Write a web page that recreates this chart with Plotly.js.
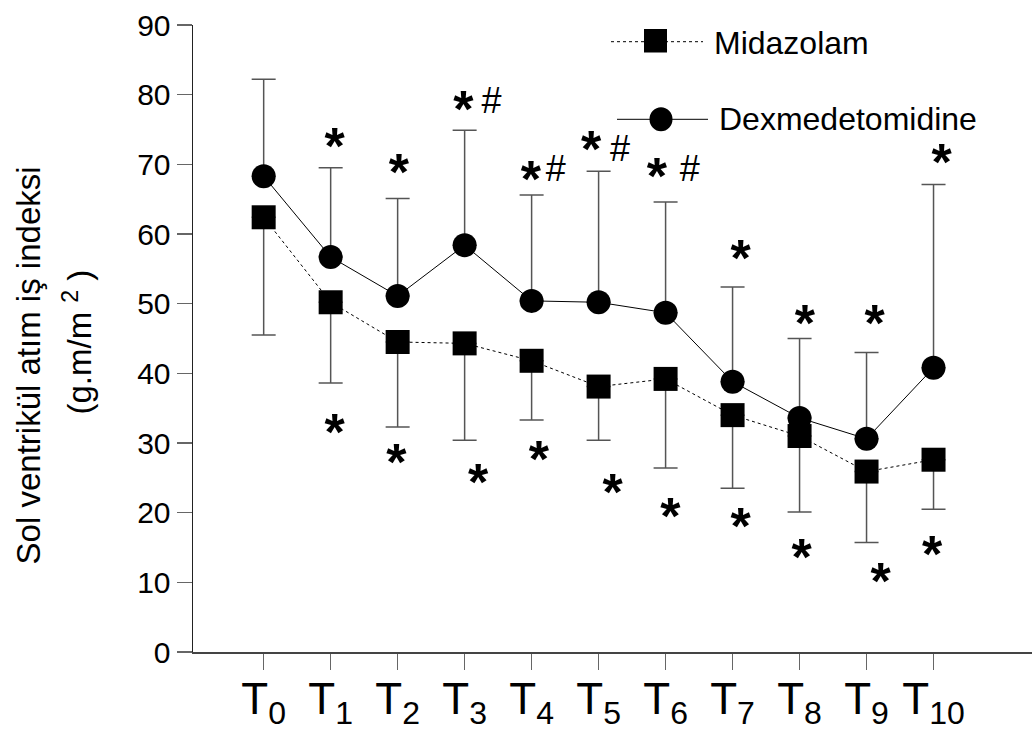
<!DOCTYPE html>
<html>
<head>
<meta charset="utf-8">
<script src="https://cdn.plot.ly/plotly-3.0.1.min.js"></script>
<style>html,body{margin:0;padding:0;background:#fff;}#chart{width:1033px;height:738px;}</style>
</head>
<body>
<div id="chart"></div>
<script>
// ---- data ----
const timePoints = [0,1,2,3,4,5,6,7,8,9,10];
const tickLabels = ['0','1','2','3','4','5','6','7','8','9','10'];
const midazolam = [62.4, 50.2, 44.5, 44.3, 41.8, 38.1, 39.2, 34.0, 31.0, 25.9, 27.6];
const midazolamSDminus = [16.9, 11.6, 12.2, 13.9, 8.5, 7.7, 12.8, 10.5, 10.9, 10.2, 7.1];
const dexmedetomidine = [68.3, 56.7, 51.1, 58.4, 50.4, 50.2, 48.7, 38.8, 33.6, 30.6, 40.8];
const dexSDplus = [13.9, 12.8, 14.0, 16.5, 15.2, 18.8, 15.9, 13.6, 11.4, 12.4, 26.3];
// significance marks ('*' = vs T0, '#' = between groups): x (time index), y value
const starX = [1.06, 2.02, 2.98, 3.99, 4.89, 5.87, 7.12, 8.08, 9.12, 10.12,
               1.06, 1.98, 3.20, 4.11, 5.21, 6.07, 7.12, 8.03, 9.21, 9.98];
const starY = [73.5, 69.8, 78.8, 68.7, 73.1, 69.2, 57.4, 48.1, 48.1, 71.2,
               32.4, 28.2, 25.2, 28.6, 23.8, 20.4, 18.9, 14.5, 11.0, 14.9];
const hashX = [3.40, 4.36, 5.32, 6.36];
const hashY = [78.7, 68.9, 71.8, 68.9];
const seriesNames = ['Midazolam','Dexmedetomidine'];
const yTitleLines = ['Sol ventrikül atım iş indeksi', '(g.m/m <sup>2</sup> )'];

// ---- style ----
const SANS = "'Liberation Sans',Arial,sans-serif";
const L = 193, R = 1032, T = 25, B = 652;
const PX = x => (x - L) / (R - L);
const PY = y => (B - y) / (B - T);
const UNIT_PX = (B - T) / 90;           // pixels per y unit
const STAR_SHIFT = 11 / UNIT_PX;        // asterisk glyph sits high in its line box

const traces = [
  {
    x: timePoints, y: midazolam, name: seriesNames[0], type: 'scatter', mode: 'lines+markers',
    line: {color: '#000', width: 1, dash: '3px,3px'},
    marker: {symbol: 'square', size: 24, color: '#000', line: {width: 0}},
    error_y: {type: 'data', symmetric: false, array: midazolam.map(() => 0), arrayminus: midazolamSDminus,
              color: '#555', thickness: 1.5, width: 12},
    showlegend: false
  },
  {
    x: timePoints, y: dexmedetomidine, name: seriesNames[1], type: 'scatter', mode: 'lines+markers',
    line: {color: '#000', width: 1},
    marker: {symbol: 'circle', size: 24, color: '#000', line: {width: 0}},
    error_y: {type: 'data', symmetric: false, array: dexSDplus, arrayminus: dexmedetomidine.map(() => 0),
              color: '#555', thickness: 1.5, width: 12},
    showlegend: false
  },
  {
    x: starX, y: starY.map(v => v - STAR_SHIFT), type: 'scatter', mode: 'text',
    text: starX.map(() => '*'), textposition: 'middle center',
    textfont: {family: SANS, size: 52, color: '#000', weight: 'bold'},
    showlegend: false, hoverinfo: 'skip'
  },
  {
    x: hashX, y: hashY, type: 'scatter', mode: 'text',
    text: hashX.map(() => '#'), textposition: 'middle center',
    textfont: {family: SANS, size: 36, color: '#000'},
    showlegend: false, hoverinfo: 'skip'
  }
];

const annotations = [];
// y-axis title (two lines)
annotations.push({xref: 'paper', yref: 'paper', x: PX(28.4), y: PY(365), text: yTitleLines[0], textangle: -90,
  showarrow: false, xanchor: 'center', yanchor: 'middle', font: {family: SANS, size: 33, color: '#000'}});
annotations.push({xref: 'paper', yref: 'paper', x: PX(77), y: PY(342.5), text: yTitleLines[1], textangle: -90,
  showarrow: false, xanchor: 'center', yanchor: 'middle', font: {family: SANS, size: 33, color: '#000'}});

// legend (manual)
annotations.push({xref: 'paper', yref: 'paper', x: PX(712), y: PY(43), text: seriesNames[0], showarrow: false,
  xanchor: 'left', yanchor: 'middle', font: {family: SANS, size: 32, color: '#000'}});
annotations.push({xref: 'paper', yref: 'paper', x: PX(717), y: PY(119.5), text: seriesNames[1], showarrow: false,
  xanchor: 'left', yanchor: 'middle', font: {family: SANS, size: 32, color: '#000'}});

const shapes = [
  {type: 'line', xref: 'paper', yref: 'paper', x0: PX(611), x1: PX(703), y0: PY(41.7), y1: PY(41.7),
   line: {color: '#000', width: 1, dash: '3px,3px'}},
  {type: 'rect', xref: 'paper', yref: 'paper', x0: PX(644), x1: PX(667), y0: PY(29), y1: PY(52.5),
   fillcolor: '#000', line: {width: 0}},
  {type: 'line', xref: 'paper', yref: 'paper', x0: PX(617), x1: PX(708), y0: PY(119.3), y1: PY(119.3),
   line: {color: '#000', width: 1}},
  {type: 'circle', xref: 'paper', yref: 'paper', x0: PX(649.5), x1: PX(672.5), y0: PY(107.3), y1: PY(131.3),
   fillcolor: '#000', line: {width: 0}}
];

const layout = {
  width: 1033, height: 738,
  margin: {l: L, r: 1033 - R, t: T, b: 738 - B, pad: 0},
  paper_bgcolor: '#fff', plot_bgcolor: '#fff',
  showlegend: false,
  xaxis: {
    range: [-1.055, 11.47], tickmode: 'array', tickvals: timePoints,
    ticktext: tickLabels.map(t => 'T<sub><span style="font-size:32px">' + t + '</span></sub>'),
    ticks: 'outside', ticklen: 16, tickwidth: 1.5, tickcolor: '#666',
    ticklabelstandoff: -8,
    showline: true, linecolor: '#444', linewidth: 1.5,
    showgrid: false, zeroline: false,
    tickfont: {family: SANS, size: 44, color: '#000'}
  },
  yaxis: {
    range: [0, 90], tickmode: 'linear', tick0: 0, dtick: 10,
    ticks: 'outside', ticklen: 15, tickwidth: 1.5, tickcolor: '#666',
    showline: true, linecolor: '#222', linewidth: 1.5,
    showgrid: false, zeroline: false,
    tickfont: {family: SANS, size: 30, color: '#000'}
  },
  annotations: annotations,
  shapes: shapes
};

Plotly.newPlot('chart', traces, layout, {staticPlot: true, displayModeBar: false});
</script>
</body>
</html>
